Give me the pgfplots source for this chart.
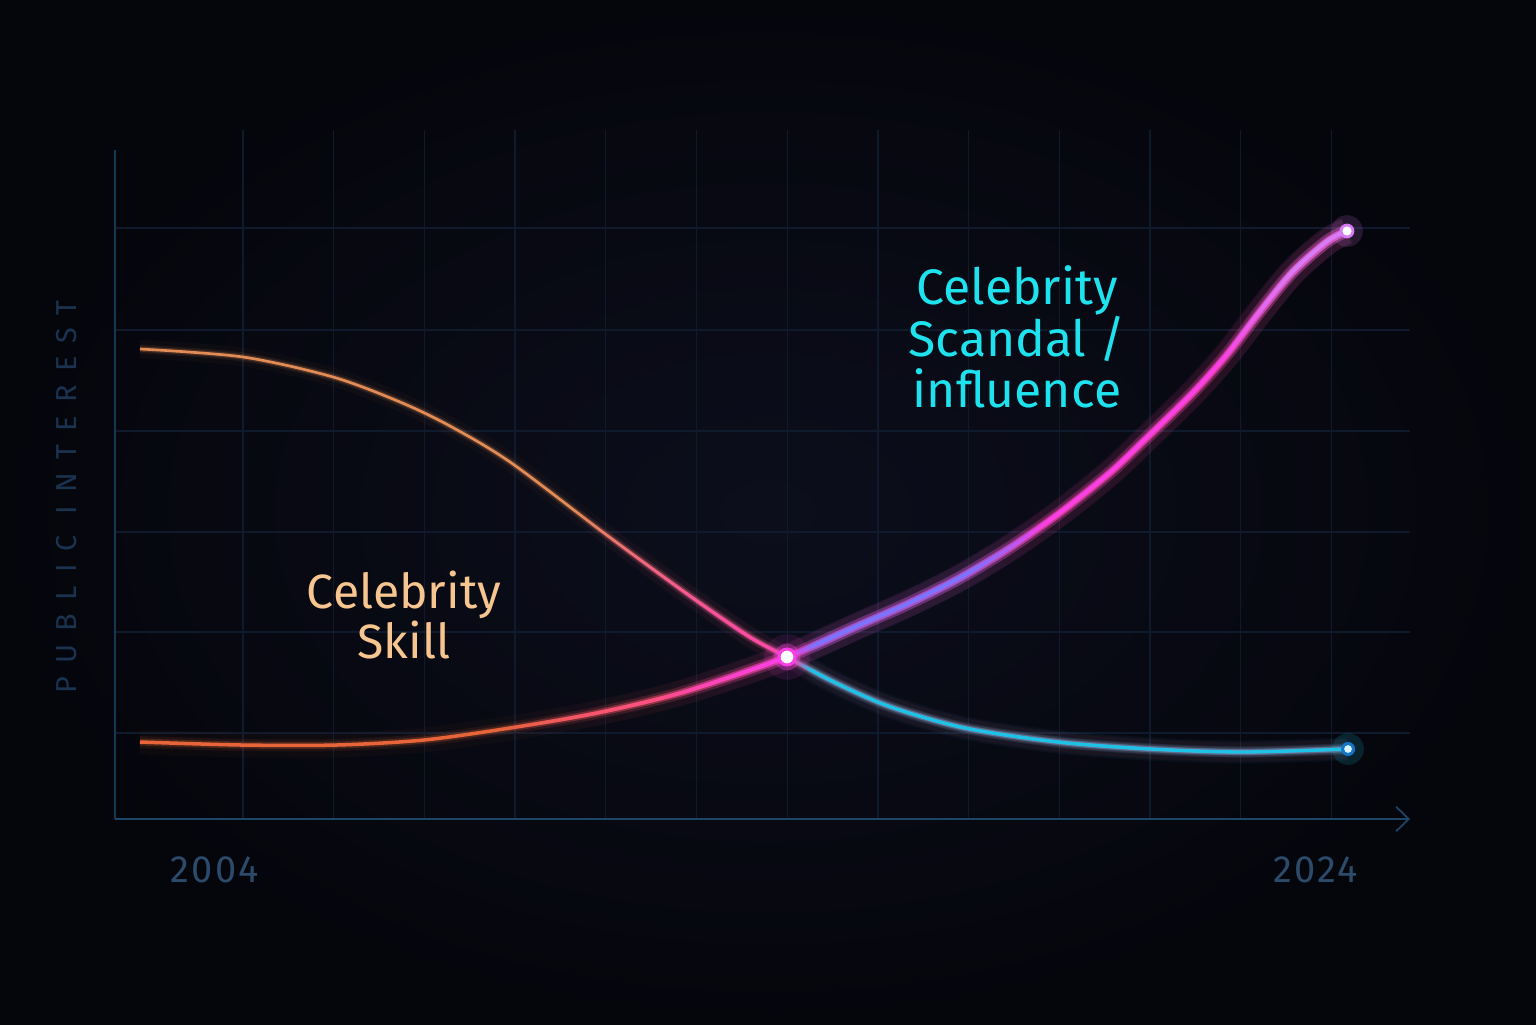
\documentclass[border=0pt]{standalone}
\usepackage{pgfplots}
\pgfplotsset{compat=1.18}
\usepackage{pgfplotstable}
\usepackage{fontspec}
\setmainfont{Fira Sans}
\newfontfamily\yearfont{Fira Sans}[LetterSpace=6]
\newfontfamily\ylabfont{Fira Sans}[LetterSpace=46]
\usetikzlibrary{fadings,arrows.meta}

\definecolor{bgin}{HTML}{0C0E1C}
\definecolor{bgout}{HTML}{05060C}
\definecolor{gridc}{HTML}{0F1A2C}
\definecolor{axisc}{HTML}{1D4568}
\definecolor{lab}{HTML}{2C4A6A}
\definecolor{ylab}{HTML}{1B3350}
\definecolor{peach}{HTML}{F7C58F}
\definecolor{cyantext}{HTML}{1EE3EE}
\definecolor{skOr}{HTML}{E48C56}
\definecolor{skPk}{HTML}{FF4AA8}
\definecolor{skCy}{HTML}{1CC3E6}
\definecolor{riOr}{HTML}{E8653A}
\definecolor{riPk}{HTML}{FF4F86}
\definecolor{riMg}{HTML}{FA3FE8}
\definecolor{riVi}{HTML}{7A74FF}
\definecolor{riEnd}{HTML}{D77CF4}

% horizontal ramps: transparent -> opaque between two positions (37.5..62.5bp = path extent)
\newcommand\mkramp[3]{%
  \pgfdeclarehorizontalshading{sh#1}{100bp}{color(0bp)=(black); color(#2bp)=(black); color(#3bp)=(white); color(100bp)=(white)}%
  \begin{tikzfadingfrompicture}[name=#1]
    \path[shading=sh#1] (-50bp,-50bp) rectangle (50bp,50bp);
  \end{tikzfadingfrompicture}}
\newcommand\mkband[5]{%
  \pgfdeclarehorizontalshading{sh#1}{100bp}{color(0bp)=(black); color(#2bp)=(black); color(#3bp)=(white); color(#4bp)=(white); color(#5bp)=(black); color(100bp)=(black)}%
  \begin{tikzfadingfrompicture}[name=#1]
    \path[shading=sh#1] (-50bp,-50bp) rectangle (50bp,50bp);
  \end{tikzfadingfrompicture}}

\mkramp{fSkPink}{46.5}{49.92}
\mkramp{fSkCyan}{50.95}{51.41}
\mkramp{fRiPink}{44.96}{48.27}
\mkramp{fRiMag}{48.27}{50.76}
\mkband{fRiVio}{50.96}{51.48}{54.49}{56.14}
\mkramp{fRiEnd}{59.77}{61.32}

\newcommand\layer[5]{% table, colour, core width, extra opts, glow strength
  \addplot[smooth, draw=#2, line width=7*#3, opacity=0.035*#5, #4] table {#1};
  \addplot[smooth, draw=#2, line width=3.4*#3, opacity=0.09*#5, #4] table {#1};
  \addplot[smooth, draw=#2, line width=2.0*#3, opacity=0.22*#5, #4] table {#1};
  \addplot[smooth, draw=#2, line width=#3, #4] table {#1};}

\pgfplotstableread{
year  v
2004.000 47.0
2005.705 46.2
2007.195 44.2
2008.305 41.7
2009.132 39.3
2010.126 35.7
2011.616 28.9
2012.444 25.2
2013.272 21.6
2014.099 18.2
2014.712 16.2
2015.523 13.6
2016.434 11.2
2017.659 9.1
2019.199 7.7
2020.722 7.0
2022.262 6.7
2024.000 7.0
}\skill

\pgfplotstableread{
year  v
2004.000 7.7
2005.672 7.4
2007.262 7.4
2008.702 7.9
2010.126 9.1
2011.566 10.6
2013.007 12.7
2014.712 16.2
2015.921 19.4
2016.748 21.6
2017.576 24.1
2018.404 27.1
2019.232 30.6
2020.060 34.6
2020.672 38.1
2021.434 42.6
2021.997 46.4
2022.543 50.7
2023.089 54.7
2023.652 57.7
2023.983 58.8
}\rise

\begin{document}
\begin{tikzpicture}
\shade[inner color=bgin, outer color=bgout] (0,0) rectangle (15.36,10.24);
\begin{axis}[
  at={(1.15cm,2.05cm)}, anchor=south west,
  scale only axis, width=12.95cm, height=6.89cm,
  xmin=2003.586, xmax=2025.026, ymin=0, ymax=68.9,
  axis line style={draw=none},
  xtick={2005.705,2007.207,2008.708,2010.210,2011.712,2013.213,2014.715,2016.217,2017.718,2019.220,2020.722,2022.223,2023.725},
  ytick={8.6,18.7,28.7,38.8,48.9,59.1},
  xticklabels={}, yticklabels={},
  major tick length=0pt,
  grid=major, major grid style={draw=gridc, line width=0.35pt},
  clip=false,
]
\draw[axisc!80!black, line width=0.5pt] (axis cs:2003.586,66.9) -- (axis cs:2003.586,0);
\draw[axisc, line width=0.55pt, -{Straight Barb[length=3.6pt,width=7pt,line width=0.5pt]}] (axis cs:2003.586,0) -- (axis cs:2025.026,0);

% Celebrity skill (falling)
\layer{\skill}{skOr}{0.75pt}{}{1}
\layer{\skill}{skPk}{0.85pt}{path fading=fSkPink}{1.2}
\layer{\skill}{skCy}{0.95pt}{path fading=fSkCyan}{1.2}

% Celebrity scandal / influence (rising)
\layer{\rise}{riOr}{1.0pt}{}{1}
\layer{\rise}{riPk}{1.05pt}{path fading=fRiPink}{1.3}
\layer{\rise}{riMg}{1.1pt}{path fading=fRiMag}{1.6}
\layer{\rise}{riVi}{1.1pt}{path fading=fRiVio}{1.6}
\layer{\rise}{riEnd}{1.1pt}{path fading=fRiEnd}{1.6}

% glowing dots
\addplot[only marks, mark=*, color=riMg, mark size=6.5pt, mark options={fill opacity=0.10, draw opacity=0}] coordinates {(2014.712,16.2)};
\addplot[only marks, mark=*, color=riMg, mark size=3.8pt, mark options={fill opacity=0.35, draw opacity=0}] coordinates {(2014.712,16.2)};
\addplot[only marks, mark=*, color=riMg, mark size=2.7pt, mark options={draw opacity=0}] coordinates {(2014.712,16.2)};
\addplot[only marks, mark=*, color=white, mark size=1.8pt, mark options={draw opacity=0}] coordinates {(2014.712,16.2)};

\addplot[only marks, mark=*, color=riEnd, mark size=4.5pt, mark options={fill opacity=0.15, draw opacity=0}] coordinates {(2023.983,58.8)};
\addplot[only marks, mark=*, color=riEnd, mark size=2.1pt, mark options={draw opacity=0}] coordinates {(2023.983,58.8)};
\addplot[only marks, mark=*, color=white, mark size=1.3pt, mark options={draw opacity=0}] coordinates {(2023.983,58.8)};

\addplot[only marks, mark=*, color=skCy, mark size=4.5pt, mark options={fill opacity=0.15, draw opacity=0}] coordinates {(2024.0,7.0)};
\addplot[only marks, mark=*, color=cyan!55!blue, mark size=2.0pt, mark options={draw opacity=0}] coordinates {(2024.0,7.0)};
\addplot[only marks, mark=*, color=cyan!15, mark size=1.1pt, mark options={draw opacity=0}] coordinates {(2024.0,7.0)};

% labels
\node[anchor=base, inner sep=0pt, text=peach, font=\fontsize{13.7pt}{14pt}\selectfont] at (axis cs:2008.37,21.1) {Celebrity};
\node[anchor=base, inner sep=0pt, text=peach, font=\fontsize{13.7pt}{14pt}\selectfont] at (axis cs:2008.37,16.1) {Skill};
\node[anchor=base, inner sep=0pt, text=cyantext, font=\fontsize{14.2pt}{15pt}\selectfont] at (axis cs:2018.52,51.4) {Celebrity};
\node[anchor=base, inner sep=0pt, text=cyantext, font=\fontsize{14.2pt}{15pt}\selectfont] at (axis cs:2018.52,46.2) {Scandal /};
\node[anchor=base, inner sep=0pt, text=cyantext, font=\fontsize{14.2pt}{15pt}\selectfont] at (axis cs:2018.52,41.1) {influence};

\node[anchor=base, inner sep=0pt, text=lab, font=\yearfont\fontsize{10.8pt}{12pt}\selectfont] at (axis cs:2005.24,-6.3) {2004};
\node[anchor=base, inner sep=0pt, text=lab, font=\yearfont\fontsize{10.8pt}{12pt}\selectfont] at (axis cs:2023.47,-6.3) {2024};
\node[rotate=90, inner sep=0pt, text=ylab, font=\ylabfont\fontsize{8.2pt}{9pt}\selectfont] at (axis cs:2002.79,32.2) {PUBLIC INTEREST};
\end{axis}
\pgfresetboundingbox
\path[use as bounding box] (0,0) rectangle (15.36,10.24);
\end{tikzpicture}
\end{document}
